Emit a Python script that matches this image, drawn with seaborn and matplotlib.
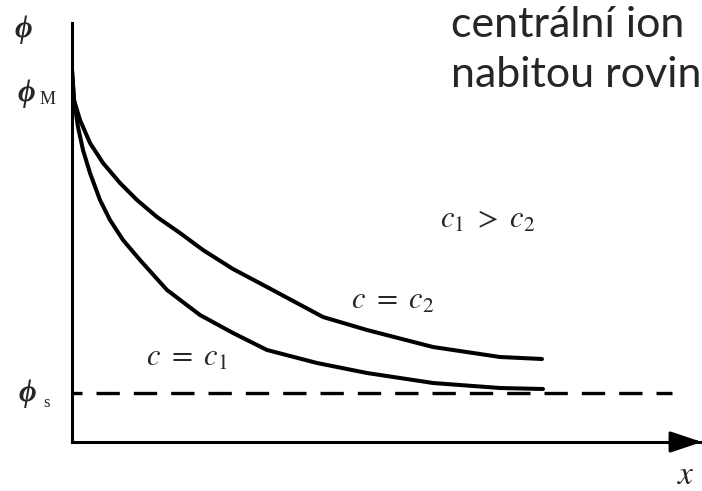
import matplotlib
matplotlib.use("Agg")
import matplotlib.pyplot as plt
import numpy as np
import pandas as pd
import seaborn as sns

# Potential profiles phi(x) away from a charged plane for two concentrations
c1_x = [0.00, 0.02, 0.06, 0.11, 0.18, 0.28, 0.38, 0.51, 0.68, 0.95, 1.28, 1.61,
        1.95, 2.45, 2.95, 3.61, 4.28, 4.71]
c1_y = [3.72, 3.42, 3.15, 2.92, 2.69, 2.42, 2.22, 2.02, 1.82, 1.52, 1.27, 1.09,
        0.92, 0.79, 0.69, 0.59, 0.54, 0.53]
c2_x = [0.00, 0.02, 0.08, 0.18, 0.31, 0.48, 0.65, 0.85, 1.08, 1.31, 1.61, 1.95,
        2.51, 2.95, 3.61, 4.28, 4.70]
c2_y = [3.72, 3.42, 3.22, 2.99, 2.79, 2.59, 2.42, 2.25, 2.09, 1.92, 1.73, 1.55,
        1.25, 1.12, 0.95, 0.85, 0.83]
phi_s = 0.49
x_max, y_max = 6.30, 4.19

df = pd.concat([
    pd.DataFrame({"x": c1_x, "phi": c1_y, "c": "c1"}),
    pd.DataFrame({"x": c2_x, "phi": c2_y, "c": "c2"}),
])

sns.set_style("white")
plt.rcParams["mathtext.fontset"] = "stix"

W, H = 702, 491
fig = plt.figure(figsize=(W / 100, H / 100), dpi=100)
ax = fig.add_axes([72 / W, (H - 442) / H, (702 - 72) / W, (442 - 23) / H])

sns.lineplot(data=df, x="x", y="phi", hue="c", palette=["black", "black"],
             linewidth=2.9, legend=False, ax=ax, sort=False, estimator=None)
for line in ax.get_lines():
    line.set_solid_joinstyle("round")
    line.set_solid_capstyle("round")

ax.axhline(phi_s, xmin=0, xmax=(672 - 72) / 630, color="black", linewidth=2.4,
           linestyle=(4.0, (7.0, 4.2)))

ax.set_xlim(0, x_max)
ax.set_ylim(0, y_max)
ax.set_xticks([])
ax.set_yticks([])
ax.set_xlabel("")
ax.set_ylabel("")
for side in ("top", "right"):
    ax.spines[side].set_visible(False)
for side in ("left", "bottom"):
    ax.spines[side].set_color("black")
    ax.spines[side].set_linewidth(2.2)
    ax.spines[side].set_capstyle("projecting")

# arrow head on the x axis
ax.annotate("", xy=(1.0, 0), xytext=(0.95, 0), xycoords="axes fraction",
            arrowprops=dict(arrowstyle="-|>,head_length=1.95,head_width=0.65",
                            mutation_scale=10, color="black", lw=2.2,
                            shrinkA=0, shrinkB=0), annotation_clip=False)


def px(x, y):
    return x / W, 1 - y / H


serif = ["Liberation Serif", "DejaVu Serif"]
phi_kw = dict(family=serif, style="italic", weight="bold", fontsize=22,
              ha="center", va="center")
fig.text(*px(23, 30), "ϕ", **phi_kw)
fig.text(*px(26, 93), "ϕ", **phi_kw)
fig.text(*px(48, 99), "M", family=serif, fontsize=13, ha="center", va="center")
fig.text(*px(27, 394), "ϕ", **phi_kw)
fig.text(*px(46, 403), "s", family=serif, fontsize=12, ha="center", va="center")
fig.text(*px(686, 474), r"$x$", fontsize=24, ha="center", va="center")

fig.text(*px(488, 219), r"$c_1\ >\ c_2$", fontsize=22, ha="center", va="center")
fig.text(*px(393, 301), r"$c\ =\ c_2$", fontsize=22, ha="center", va="center")
fig.text(*px(187, 357), r"$c\ =\ c_1$", fontsize=22, ha="center", va="center")

sans = ["Lato", "DejaVu Sans"]
fig.text(*px(451, 37), "centrální ion", family=sans, fontsize=31,
         ha="left", va="baseline")
fig.text(*px(451, 87), "nabitou rovin", family=sans, fontsize=31,
         ha="left", va="baseline")

fig.savefig("out.png", dpi=100)
